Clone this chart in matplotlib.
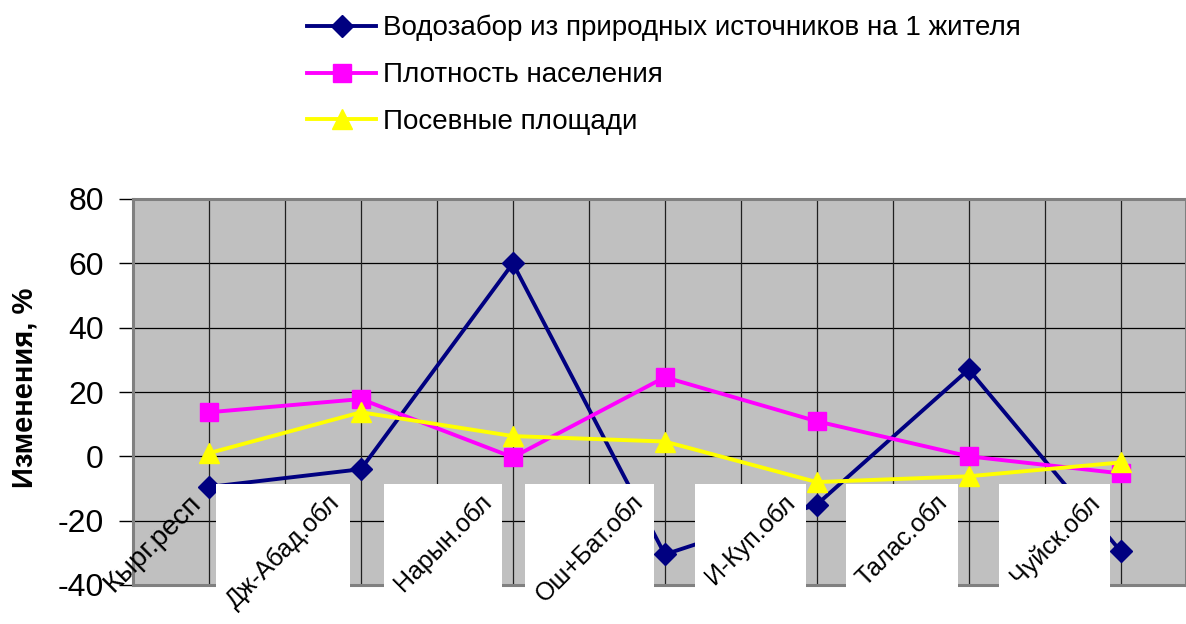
import matplotlib
matplotlib.use("Agg")
import matplotlib.pyplot as plt
from matplotlib.patches import Rectangle
from matplotlib.transforms import IdentityTransform

plt.rcParams['font.family'] = ['Liberation Sans', 'DejaVu Sans']
plt.rcParams['axes.unicode_minus'] = False

# data
regions = ["Кырг.респ", "Дж-Абад.обл", "Нарын.обл", "Ош+Бат.обл",
           "И-Куп.обл", "Талас.обл", "Чуйск.обл"]
water = [-9.5, -4, 60, -30.5, -15, 27, -29.5]
density = [13.7, 17.8, -0.3, 24.6, 10.9, 0, -5.3]
crops = [1, 13.7, 6.3, 4.6, -8, -6.2, -1.9]

series_names = ["Водозабор из природных источников на 1 жителя",
                "Плотность населения",
                "Посевные площади"]
yticks = [-40, -20, 0, 20, 40, 60, 80]

fig = plt.figure(figsize=(11.86, 6.24), dpi=100)
ax = fig.add_axes([133 / 1186, 1 - 585 / 624, 1 - 133 / 1186, (585 - 199) / 624])
ax.set_facecolor('#C0C0C0')

x = list(range(len(regions)))
ax.plot(x, water, color='#000080', lw=2.8, marker='D', ms=11, zorder=3,
        label=series_names[0])
ax.plot(x, density, color='#FF00FF', lw=2.8, marker='s', ms=13, zorder=3,
        label=series_names[1])
ax.plot(x, crops, color='#FFFF00', lw=2.8, marker='^', ms=14, zorder=3,
        label=series_names[2])

ax.set_xlim(-0.5, 6.43)
ax.set_ylim(-40, 80)
ax.set_yticks(yticks)
ax.set_xticks([])
ax.tick_params(axis='y', labelsize=23, length=10, width=1, pad=11)

# grid: horizontal at ticks, vertical at every half category
for v in yticks[1:-1]:
    ax.axhline(v, color='black', lw=0.9, zorder=1)
for k in range(1, 14):
    ax.axvline(-0.5 + 0.5 * k, color='#202020', lw=0.9, zorder=1)

for s in ax.spines.values():
    s.set_color('#808080')
    s.set_linewidth(2.2)

ax.set_ylabel("Изменения, %", fontsize=21, fontweight='bold')
ax.yaxis.set_label_coords(-0.09, 0.51)

# category labels inside the plot, rotated
labels = []
for i, name in enumerate(regions):
    t = ax.annotate(name, xy=(i, -10.5), xytext=(-2 if i == 0 else -12, 0),
                    textcoords='offset points', rotation=45, ha='right', va='top',
                    fontsize=20 if i == 0 else 18, annotation_clip=False, zorder=6)
    labels.append(t)

# white boxes behind every label except the first, as in the original
fig.canvas.draw()
renderer = fig.canvas.get_renderer()
for t in labels[1:]:
    bb = t.get_window_extent(renderer)
    pad = 6
    r = Rectangle((bb.x0 - pad, bb.y0 - pad), bb.width + 2 * pad, bb.height + 2 * pad,
                  transform=IdentityTransform(), facecolor='white', edgecolor='none',
                  clip_on=False, zorder=5)
    ax.add_patch(r)

ax.legend(loc='upper left', bbox_to_anchor=(307 / 1186, 1 - 15 / 624),
          bbox_transform=fig.transFigure, frameon=False, fontsize=20,
          handlelength=2.5, handletextpad=0.25, labelspacing=0.75,
          borderpad=0, borderaxespad=0)

fig.savefig("out.png", dpi=100)
